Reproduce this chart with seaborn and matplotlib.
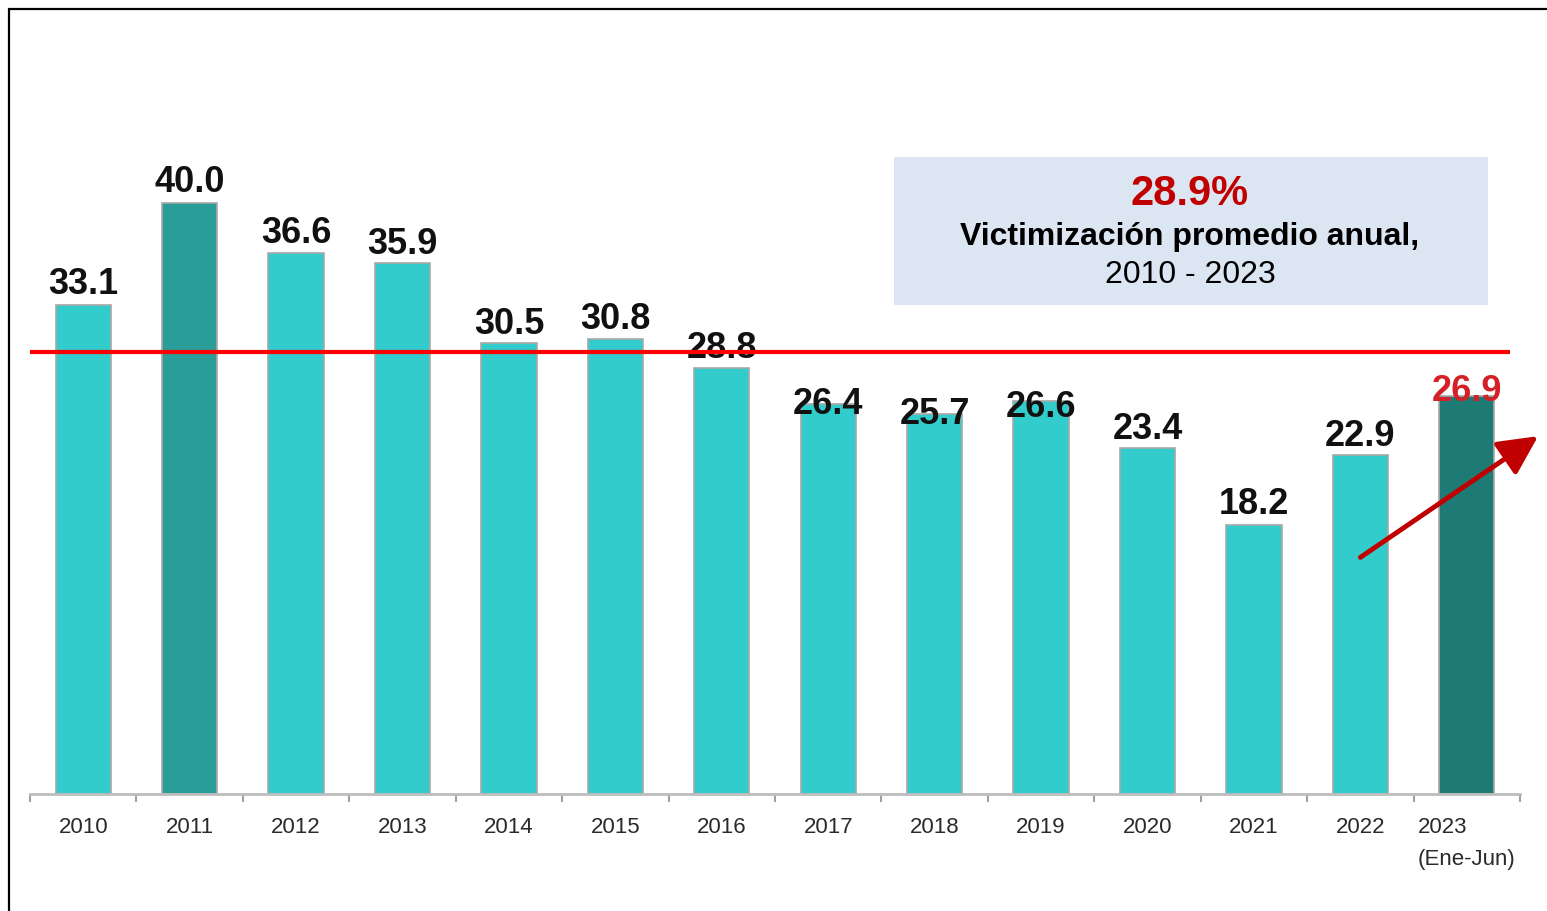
import numpy as np
import pandas as pd
import matplotlib
matplotlib.use('Agg')
import matplotlib.pyplot as plt
from matplotlib.patches import Rectangle
from matplotlib.lines import Line2D
import seaborn as sns

anios = ['2010', '2011', '2012', '2013', '2014', '2015', '2016',
         '2017', '2018', '2019', '2020', '2021', '2022', '2023']
valores = [33.1, 40.0, 36.6, 35.9, 30.5, 30.8, 28.8,
           26.4, 25.7, 26.6, 23.4, 18.2, 22.9, 26.9]
etiquetas_x = ['2010', '2011', '2012', '2013', '2014', '2015', '2016',
               '2017', '2018', '2019', '2020', '2021', '2022', '2023\n(Ene-Jun)']
promedio_texto = '28.9%'
nivel_linea = 29.9  # where the red reference line sits in the picture

sns.set_theme(style='white')
plt.rcParams['font.family'] = ['Liberation Sans', 'DejaVu Sans']

turquesa = '#33CCCC'
colores = [turquesa] * len(anios)
colores[1] = '#2A9D99'
colores[13] = '#1E7A75'

df = pd.DataFrame({'anio': anios, 'valor': valores})

fig = plt.figure(figsize=(15.47, 9.12), dpi=100)
ax = fig.add_axes([30 / 1547, 117 / 912, 1490 / 1547, 695 / 912])

sns.barplot(data=df, x='anio', y='valor', hue='anio', palette=colores,
            legend=False, width=0.52, edgecolor='#a8a8a8', linewidth=1.2,
            saturation=1, ax=ax, zorder=2)

ax.set_xlim(-0.5, 13.5)
ax.set_ylim(0, 47)
ax.set_xlabel('')
ax.set_ylabel('')
ax.set_yticks([])
for s in ['left', 'right', 'top']:
    ax.spines[s].set_visible(False)
ax.spines['bottom'].set_color('#bdbdbd')
ax.spines['bottom'].set_linewidth(2)

ax.set_xticks(range(len(anios)))
ax.set_xticklabels(etiquetas_x, fontsize=16, color='#2a2a2a')
ax.tick_params(axis='x', which='major', length=0, pad=16)
ax.set_xticks(np.arange(-0.5, len(anios), 1), minor=True)
ax.tick_params(axis='x', which='minor', length=6, width=1.5, color='#a0a0a0',
               direction='out', bottom=True)
last = ax.get_xticklabels()[-1]
last.set_multialignment('left')
last.set_linespacing(1.65)

# value labels (vertical offsets in pixels relative to bar top)
desfases = [21, 21, 20, 20, 19, 20, 21, 0, 0, -6, 19, 21, 20, 6]
for i, (v, d) in enumerate(zip(valores, desfases)):
    col = '#D42027' if i == len(valores) - 1 else '#111111'
    ax.annotate(f'{v:.1f}', xy=(i, v), xytext=(0, d), textcoords='offset pixels',
                ha='center', va='center', fontsize=26, fontweight='bold',
                color=col, zorder=4)

ax.hlines(nivel_linea, -0.5, 13.41, color='#FF0000', lw=3, zorder=5, clip_on=False)

ax.annotate('', xy=(13.67, 24.2), xytext=(12.0, 16.0), annotation_clip=False,
            arrowprops=dict(arrowstyle='-|>,head_length=0.6,head_width=0.3',
                            color='#C00000', lw=3.5, mutation_scale=40,
                            shrinkA=0, shrinkB=0), zorder=6)

# info box
fig.patches.append(Rectangle((894 / 1547, (912 - 306) / 912), 594 / 1547, 148 / 912,
                             transform=fig.transFigure, facecolor='#DCE6F2',
                             edgecolor='none', zorder=1))
fig.text(1190 / 1547, 1 - 194 / 912, promedio_texto, ha='center', va='center',
         fontsize=30, fontweight='bold', color='#C00000')
fig.text(1190 / 1547, 1 - 237 / 912, 'Victimización promedio anual,', ha='center',
         va='center', fontsize=23, fontweight='bold', color='black')
fig.text(1190 / 1547, 1 - 275 / 912, '2010 - 2023', ha='center', va='center',
         fontsize=23, color='black')

# outer frame (left and top edges)
fig.add_artist(Line2D([9 / 1547, 9 / 1547], [0, 1 - 10 / 912], color='black',
                      lw=1.6, transform=fig.transFigure))
fig.add_artist(Line2D([9 / 1547, 1], [1 - 10 / 912, 1 - 10 / 912], color='black',
                      lw=1.6, transform=fig.transFigure))

fig.savefig('out.png', dpi=100, facecolor='white')
